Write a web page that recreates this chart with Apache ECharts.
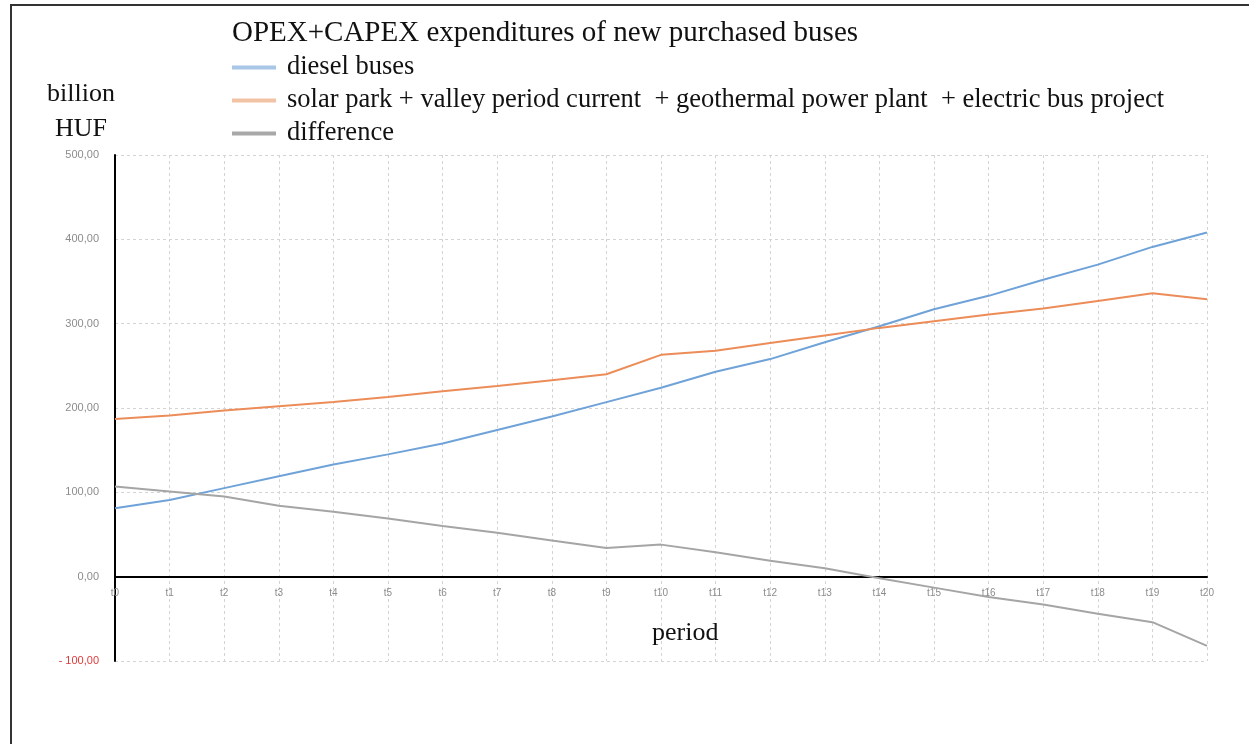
<!DOCTYPE html>
<html>
<head>
<meta charset="utf-8">
<title>OPEX+CAPEX expenditures of new purchased buses</title>
<script src="https://cdn.jsdelivr.net/npm/echarts@6/dist/echarts.min.js"></script>
<style>
  html, body { margin: 0; padding: 0; background: #fff; }
  #chart { width: 1249px; height: 744px; }
</style>
</head>
<body>
<div id="chart"></div>
<script>
// periods t0..t20
const periods = ['t0', 't1', 't2', 't3', 't4', 't5', 't6', 't7', 't8', 't9', 't10',
  't11', 't12', 't13', 't14', 't15', 't16', 't17', 't18', 't19', 't20']

// billion HUF
const dieselBuses = [81, 91, 105, 119, 133, 145, 158, 174, 190, 207, 224,
  243, 258, 278, 297, 317, 333, 352, 370, 391, 408]
const electricProject = [187, 191, 197, 202, 207, 213, 220, 226, 233, 240, 263,
  268, 277, 286, 295, 303, 311, 318, 327, 336, 329]
const difference = [107, 101, 95, 84, 77, 69, 60, 52, 43, 34, 38,
  29, 19, 10, -2, -13, -24, -33, -44, -54, -82]

const yTicks = { min: -100, max: 500, step: 100 }

const serif = '"Liberation Serif", "DejaVu Serif", serif'

let chart = echarts.init(document.getElementById('chart'))

// grid: top 155, bottom 83 -> plot height 506 for 600 units
let plotH = 744 - 155 - 83
let zeroOffset = plotH * (0 - yTicks.min) / (yTicks.max - yTicks.min)

let option = {
  backgroundColor: '#fff',
  animation: false,
  title: [
    {
      text: 'OPEX+CAPEX expenditures of new purchased buses',
      left: 227,
      top: 14,
      textStyle: { fontFamily: serif, fontSize: 29, fontWeight: 'normal', color: '#111' }
    },
    {
      text: 'billion\nHUF',
      left: 76,
      top: 72,
      textAlign: 'center',
      textStyle: { fontFamily: serif, fontSize: 26, fontWeight: 'normal', color: '#111', lineHeight: 35, align: 'center' }
    },
    {
      text: 'period',
      left: 647,
      top: 615,
      textStyle: { fontFamily: serif, fontSize: 26, fontWeight: 'normal', color: '#111' }
    }
  ],
  // frame round the figure
  graphic: [
    {
      type: 'rect',
      shape: { x: 11, y: 5, width: 1300, height: 800 },
      style: { fill: 'none', stroke: '#333', lineWidth: 2 },
      silent: true
    }
  ],
  legend: {
    orient: 'vertical',
    left: 227,
    top: 49,
    itemWidth: 44,
    itemHeight: 4,
    itemGap: 6,
    icon: 'rect',
    textStyle: { fontFamily: serif, fontSize: 26.5, color: '#111', padding: [0, 0, 0, 6] },
    data: [
      { name: 'diesel buses', itemStyle: { color: '#a8c6e6' } },
      { name: 'solar park + valley period current  + geothermal power plant  + electric bus project', itemStyle: { color: '#f3c3a6' } },
      { name: 'difference', itemStyle: { color: '#a8a8a8' } }
    ]
  },
  grid: {
    left: 115,
    right: 42,
    top: 155,
    bottom: 83
  },
  xAxis: {
    type: 'category',
    boundaryGap: false,
    data: periods,
    offset: -zeroOffset,
    axisLine: { onZero: false, lineStyle: { color: '#000', width: 2 } },
    axisTick: { show: false },
    axisLabel: { color: '#8c8c8c', fontSize: 10, margin: 12 },
    splitLine: { show: true, lineStyle: { color: '#d4d4d4', type: [3, 3] } }
  },
  yAxis: {
    type: 'value',
    min: yTicks.min,
    max: yTicks.max,
    interval: yTicks.step,
    axisLine: { show: true, lineStyle: { color: '#000', width: 2 } },
    axisTick: { show: false },
    axisLabel: {
      fontSize: 11,
      margin: 16,
      color: function (value) {
        return Number(value) < 0 ? '#e03a3a' : '#8c8c8c'
      },
      formatter: function (value) {
        let s = Math.abs(value).toFixed(2).replace('.', ',')
        return value < 0 ? '- ' + s : s
      }
    },
    splitLine: { show: true, lineStyle: { color: '#d4d4d4', type: [3, 3] } }
  },
  series: [
    {
      name: 'diesel buses',
      type: 'line',
      data: dieselBuses,
      showSymbol: false,
      lineStyle: { width: 2, color: '#6fa2d8' },
      itemStyle: { color: '#6fa2d8' }
    },
    {
      name: 'solar park + valley period current  + geothermal power plant  + electric bus project',
      type: 'line',
      data: electricProject,
      showSymbol: false,
      lineStyle: { width: 2, color: '#ec8c58' },
      itemStyle: { color: '#ec8c58' }
    },
    {
      name: 'difference',
      type: 'line',
      data: difference,
      showSymbol: false,
      lineStyle: { width: 2, color: '#a5a5a5' },
      itemStyle: { color: '#a5a5a5' }
    }
  ]
}

chart.setOption(option)
</script>
</body>
</html>
